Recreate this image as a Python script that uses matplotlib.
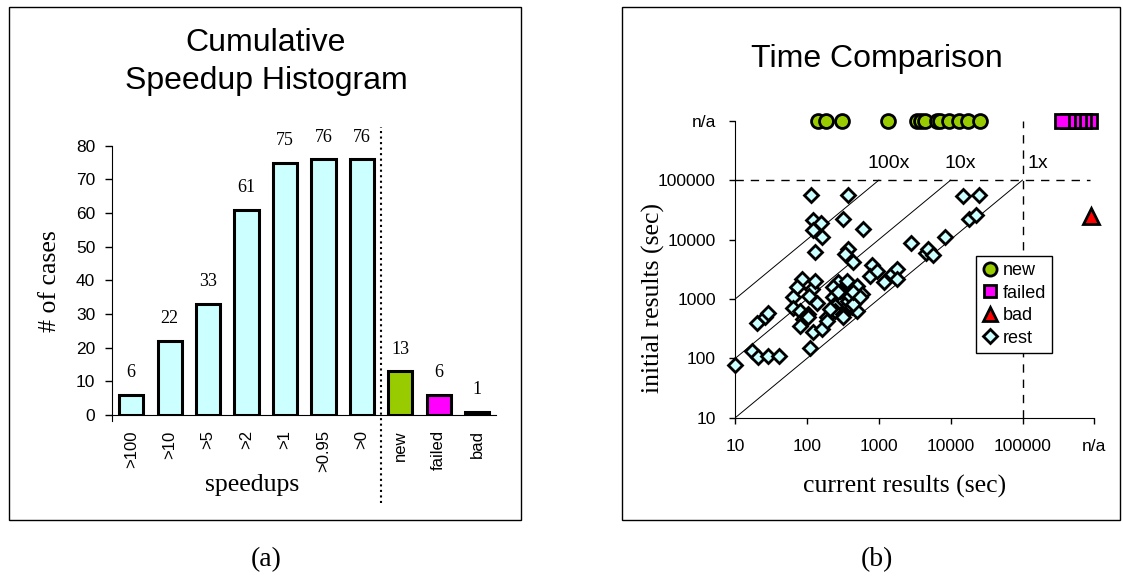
import numpy as np
import matplotlib.pyplot as plt
from matplotlib.patches import Rectangle
from matplotlib.lines import Line2D

SANS = 'Liberation Sans'
SERIF = 'Liberation Serif'

# (a) cumulative speedup histogram
cats = ['>100', '>10', '>5', '>2', '>1', '>0.95', '>0', 'new', 'failed', 'bad']
counts = [6, 22, 33, 61, 75, 76, 76, 13, 6, 1]
bar_cols = ['#CCFFFF'] * 7 + ['#99CC00', '#FF00FF', '#FF0000']

# (b) time comparison, seconds; n/a is drawn at 1e6
NA = 1e6
rest_cur = [113, 374, 119, 156, 119, 159, 312, 605, 129, 374, 336, 430,
            14900, 24700, 18100, 22200, 8300, 2790, 4510, 4860, 5700, 807, 750, 929,
            1190, 1500, 1760, 1760,
            84, 71.5, 64, 63, 79, 116, 129, 107, 136, 102, 86.5, 79, 104, 122, 159, 109, 187,
            19.8, 25.9, 28.2, 16.9, 20.9, 28.2, 41, 10,
            272, 231, 347, 489, 574, 231, 272, 244, 244, 312, 374, 417, 395, 319, 499, 286,
            187, 440, 208, 440, 355, 272, 545]
rest_init = [56900, 56900, 21700, 19000, 14200, 11000, 22200, 15300, 6240, 6830, 5630, 4240,
             54700, 56900, 22500, 26300, 11000, 8830, 6000, 6830, 5500, 3730, 2440, 2960,
             1890, 2600, 3150, 2150,
             2150, 1560, 1060, 703, 618, 1460, 2015, 1130, 841, 557, 460, 356, 490, 275, 313, 150, 503,
             389, 490, 571, 132, 105, 108, 108, 76,
             1890, 1560, 1660, 1660, 1205, 1060, 931, 769, 634, 557, 931, 721, 1130, 490, 618, 1370,
             431, 820, 676, 1285, 2015, 1285, 1060]
new_cur = [143, 183, 303, 1350, 3400, 3860, 4390, 6440, 7100, 9460, 13060, 17260, 25600]
failed_cur = [350000, 430000, 510000, 610000, 730000, 870000]
bad_cur = [900000]
bad_init = [24800]
ticks_b = [10, 100, 1000, 10000, 100000, NA]
tick_lbl_b = ['10', '100', '1000', '10000', '100000', 'n/a']
speedups = [100, 10, 1]
speed_lbl = ['100x', '10x', '1x']

W, H = 1123, 576
fig = plt.figure(figsize=(W / 100, H / 100), dpi=100)

def fx(px):
    return px / W

def fy(py):
    return 1 - py / H

# panel frames
fig.add_artist(Rectangle((fx(9), fy(520)), fx(521) - fx(9), fy(7) - fy(520),
                         transform=fig.transFigure, fill=False, ec='black', lw=1))
fig.add_artist(Rectangle((fx(622), fy(520)), fx(1120) - fx(622), fy(7) - fy(520),
                         transform=fig.transFigure, fill=False, ec='black', lw=1))

# ---- left chart ----
ax = fig.add_axes([fx(112), fy(415), fx(496.4) - fx(112), fy(145.8) - fy(415)])
xs = np.arange(len(cats))
ax.bar(xs, counts, width=0.63, color=bar_cols, edgecolor='black', linewidth=2.2)
for x, v in zip(xs, counts):
    ax.annotate(str(v), (x, v), xytext=(0, 16), textcoords='offset points',
                ha='center', va='center', fontsize=13, family=SERIF)
ax.set_xlim(-0.5, len(cats) - 0.5)
ax.set_ylim(0, 80)
ax.set_yticks(range(0, 81, 10))
ax.set_xticks(xs)
ax.set_xticklabels(cats, rotation=90, fontsize=12, family=SANS)
ax.tick_params(axis='x', length=0, pad=11)
ax.tick_params(axis='y', direction='out', length=5, width=1, pad=7, labelsize=12.5)
for t in ax.get_yticklabels():
    t.set_family(SANS)
for s in ['top', 'right']:
    ax.spines[s].set_visible(False)
ax.spines['left'].set_bounds(-1.8, 80)
ax.axvline(6.5, ymin=-0.326, ymax=1.071, color='black', ls=':', lw=1.5, clip_on=False)
ax.patch.set_alpha(0)

fig.text(fx(266), fy(62), 'Cumulative\nSpeedup Histogram', ha='center', va='center',
         fontsize=23, family=SANS, linespacing=1.32)
fig.text(fx(50), fy(281), '# of cases', rotation=90, ha='center', va='center',
         fontsize=18.5, family=SERIF)
fig.text(fx(252), fy(485), 'speedups', ha='center', va='center', fontsize=18.5, family=SERIF)
fig.text(fx(266), fy(560), '(a)', ha='center', va='center', fontsize=20, family=SERIF)

# ---- right chart ----
bx = fig.add_axes([fx(735.3), fy(417.7), fx(1094.3) - fx(735.3), fy(120.7) - fy(417.7)])
bx.set_xscale('log')
bx.set_yscale('log')
bx.set_xlim(10, NA)
bx.set_ylim(10, NA)
for k in speedups:
    bx.plot([10, 1e5 / k], [10 * k, 1e5], color='black', lw=0.7, zorder=1)
bx.plot([10, 8.7e5], [1e5, 1e5], color='black', lw=1, ls=(0, (6, 5)), zorder=1, clip_on=False)
bx.plot([1e5, 1e5], [10, NA], color='black', lw=1, ls=(0, (6, 5)), zorder=1, clip_on=False)
for k, lbl, lx in zip(speedups, speed_lbl, [1352, 13490, 166000]):
    bx.text(lx, 186700, lbl, ha='center', va='center', fontsize=14, family=SANS)

bx.plot(rest_cur, rest_init, ls='none', marker='D', ms=7.4, mfc='#CCFFFF', mec='black',
        mew=2, zorder=3, clip_on=False)
bx.plot(new_cur, [NA] * len(new_cur), ls='none', marker='o', ms=10, mfc='#99CC00',
        mec='black', mew=2, zorder=4, clip_on=False)
for xf in failed_cur[::-1]:
    bx.plot([xf], [NA], ls='none', marker='s', ms=9.8, mfc='#FF00FF', mec='black',
            mew=2, zorder=4, clip_on=False)
bx.plot(bad_cur, bad_init, ls='none', marker='^', ms=11, mfc='#FF0000', mec='black',
        mew=2, zorder=4, clip_on=False)

bx.set_xticks(ticks_b)
bx.set_xticklabels(tick_lbl_b)
bx.set_yticks(ticks_b)
bx.set_yticklabels(tick_lbl_b)
bx.minorticks_off()
bx.tick_params(axis='both', direction='out', length=4, width=1, labelsize=12.5)
bx.tick_params(axis='x', pad=11)
bx.tick_params(axis='y', pad=10)
for t in bx.get_xticklabels() + bx.get_yticklabels():
    t.set_family(SANS)
for s in ['top', 'right']:
    bx.spines[s].set_visible(False)
bx.patch.set_alpha(0)

handles = [
    Line2D([], [], ls='none', marker='o', ms=9.5, mfc='#99CC00', mec='black', mew=2),
    Line2D([], [], ls='none', marker='s', ms=9.0, mfc='#FF00FF', mec='black', mew=2),
    Line2D([], [], ls='none', marker='^', ms=10, mfc='#FF0000', mec='black', mew=2),
    Line2D([], [], ls='none', marker='D', ms=7, mfc='#CCFFFF', mec='black', mew=2),
]
leg = bx.legend(handles, ['new', 'failed', 'bad', 'rest'], loc='upper left',
                bbox_to_anchor=(fx(975.7), fy(256)), bbox_transform=fig.transFigure,
                borderaxespad=0, frameon=True, fancybox=False, framealpha=1,
                edgecolor='black', handlelength=0.9, handletextpad=0.25,
                borderpad=0.35, labelspacing=0.3, prop={'family': SANS, 'size': 13})
leg.get_frame().set_linewidth(1)
leg.set_zorder(5)

fig.text(fx(876.7), fy(58.8), 'Time Comparison', ha='center', va='center',
         fontsize=23, family=SANS)
fig.text(fx(653.3), fy(298.3), 'initial results (sec)', rotation=90, ha='center',
         va='center', fontsize=18.5, family=SERIF)
fig.text(fx(905), fy(486.8), 'current results (sec)', ha='center', va='center',
         fontsize=18.5, family=SERIF)
fig.text(fx(876.7), fy(560), '(b)', ha='center', va='center', fontsize=20, family=SERIF)

fig.savefig('out.png', dpi=100)
